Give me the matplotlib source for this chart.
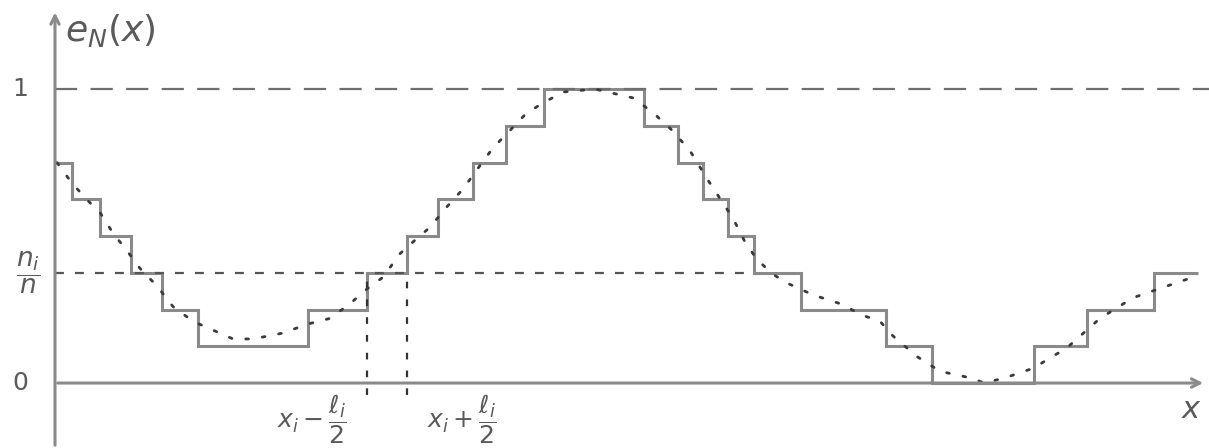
import matplotlib
matplotlib.use("Agg")
import matplotlib.pyplot as plt
import numpy as np

# ---- data (x in arbitrary units, y as empirical fraction) ----
step_edges = [0.00, 0.17, 0.45, 0.76, 1.07, 1.43, 2.53, 3.12, 3.52, 3.83, 4.18,
              4.51, 4.89, 5.89, 6.23, 6.48, 6.73, 6.99, 7.46, 8.31, 8.77, 9.79,
              10.32, 10.99, 11.43]
step_levels_eighths = [6, 5, 4, 3, 2, 1, 2, 3, 4, 5, 6, 7, 8, 7, 6, 5, 4, 3, 2,
                       1, 0, 1, 2, 3]

curve_x = [0.02, 0.17, 0.33, 0.45, 0.58, 0.72, 0.85, 1.02, 1.18, 1.38, 1.58,
           1.78, 1.98, 2.28, 2.52, 2.75, 2.95, 3.12, 3.28, 3.45, 3.58, 3.75,
           3.92, 4.08, 4.25, 4.38, 4.58, 4.72, 4.92, 5.08, 5.40, 5.78, 5.98,
           6.17, 6.35, 6.53, 6.78, 6.90, 7.02, 7.18, 7.32, 7.58, 7.85, 8.08,
           8.25, 8.38, 8.62, 8.85, 9.12, 9.30, 9.52, 9.78, 10.12, 10.45, 10.78,
           11.12, 11.38]
curve_y = [0.75, 0.68, 0.62, 0.58, 0.51, 0.45, 0.39, 0.33, 0.26, 0.21, 0.18,
           0.15, 0.15, 0.17, 0.20, 0.22, 0.27, 0.32, 0.36, 0.44, 0.48, 0.53,
           0.60, 0.66, 0.74, 0.80, 0.87, 0.92, 0.96, 0.99, 1.00, 0.97, 0.92,
           0.86, 0.79, 0.69, 0.56, 0.48, 0.42, 0.37, 0.34, 0.30, 0.27, 0.23,
           0.21, 0.16, 0.09, 0.04, 0.02, 0.00, 0.02, 0.05, 0.12, 0.22, 0.29,
           0.33, 0.36]

ni_over_n = 3 / 8
x_i = 3.32
l_i = 0.40

y_labels = {"1": 1.0, "0": 0.0}

# ---- figure ----
fig = plt.figure(figsize=(12.09, 4.48), dpi=100)
ax = fig.add_axes([0, 0, 1, 1])
ax.set_xlim(-0.55, 11.54)
ax.set_ylim(-0.221, 1.303)
ax.axis("off")

pencil = "#8a8a8a"
dark = "#3a3a3a"
ink = "#5a5a5a"

# reference lines
ax.plot([0, 11.54], [1, 1], color="#6e6e6e", lw=1.6, linestyle=(0, (10, 6)))
ax.plot([0, 7.00], [ni_over_n, ni_over_n], color="#555555", lw=1.6,
        linestyle=(0, (4, 5)))

# vertical dashed lines at x_i +/- l_i/2
for xv in (x_i - l_i / 2, x_i + l_i / 2):
    ax.plot([xv, xv], [-0.04, ni_over_n], color="#333333", lw=1.6,
            linestyle=(0, (3, 5)))

# step function
lv = [k / 8 for k in step_levels_eighths]
ax.stairs(lv, step_edges, color=pencil, lw=2.2, baseline=None)

# smooth dotted curve
ax.plot(curve_x, curve_y, color=dark, lw=2.0, linestyle=(0, (1, 5)),
        dash_capstyle="round")

# axes with arrows
ax.annotate("", xy=(0, 1.27), xytext=(0, -0.221),
            arrowprops=dict(arrowstyle="->,head_length=0.6,head_width=0.3",
                            color=pencil, lw=2.2))
ax.annotate("", xy=(11.51, 0), xytext=(0, 0),
            arrowprops=dict(arrowstyle="->,head_length=0.6,head_width=0.3",
                            color=pencil, lw=2.2))

# labels
ax.text(0.10, 1.20, r"$e_N(x)$", fontsize=26, color=ink,
        ha="left", va="center")
for lab, yv in y_labels.items():
    ax.text(-0.35, yv, lab, fontsize=18, color=ink,
            ha="center", va="center")
ax.text(-0.27, ni_over_n, r"$\dfrac{n_i}{n}$", fontsize=19, color=ink,
        ha="center", va="center")
ax.text(x_i - l_i / 2 - 0.55, -0.125, r"$x_i - \dfrac{\ell_i}{2}$", fontsize=18,
        color=ink, ha="center", va="center")
ax.text(x_i + l_i / 2 + 0.55, -0.125, r"$x_i + \dfrac{\ell_i}{2}$", fontsize=18,
        color=ink, ha="center", va="center")
ax.text(11.37, -0.09, r"$x$", fontsize=22, color=ink,
        ha="center", va="center")

fig.savefig("out.png", dpi=100, facecolor="white")
